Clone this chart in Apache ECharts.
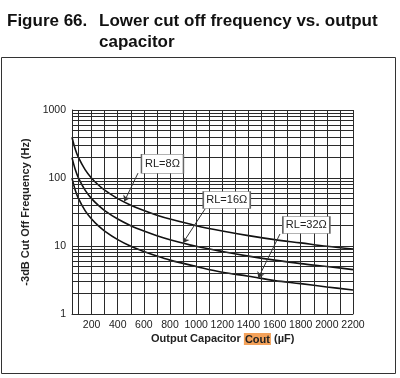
<!DOCTYPE html>
<html>
<head>
<meta charset="utf-8">
<script src="https://cdn.jsdelivr.net/npm/echarts@6/dist/echarts.min.js"></script>
<style>
html,body{margin:0;padding:0;background:#fff;}
#c{width:400px;height:378px;}
</style>
</head>
<body>
<div id="c"></div>
<script>
// Output capacitance (µF)
const capacitance = [50, 75, 100, 150, 200, 250, 300, 400, 500, 600, 700, 800, 1000, 1200, 1400, 1600, 1800, 2000, 2200];
// -3dB cut-off frequency (Hz) per load
const rl8  = [398, 265, 199, 133, 99.5, 79.6, 66.3, 49.7, 39.8, 33.2, 28.4, 24.9, 19.9, 16.6, 14.2, 12.4, 11.1, 9.9, 9.0];
const rl16 = [199, 133, 99.5, 66.3, 49.7, 39.8, 33.2, 24.9, 19.9, 16.6, 14.2, 12.4, 9.9, 8.3, 7.1, 6.2, 5.5, 5.0, 4.5];
const rl32 = [99.5, 66.3, 49.7, 33.2, 24.9, 19.9, 16.6, 12.4, 9.9, 8.3, 7.1, 6.2, 5.0, 4.1, 3.6, 3.1, 2.8, 2.5, 2.26];
const seriesNames = ['RL=8Ω', 'RL=16Ω', 'RL=32Ω'];
// Axis ticks
const xGridValues = [100,200,300,400,500,600,700,800,900,1000,1100,1200,1300,1400,1500,1600,1700,1800,1900,2000,2100,2200];
const xLabelValues = [200,400,600,800,1000,1200,1400,1600,1800,2000,2200];
const yGridValues = [1,2,3,4,5,6,7,8,9,10,20,30,40,50,60,70,80,90,100,200,300,400,500,600,700,800,900,1000];
const yLabelValues = [1,10,100,1000];
// Callouts: box centre and arrow (start -> end) in data coordinates
const callouts = [
  {name: seriesNames[0], box: [742, 162], size: [42, 19], from: [555, 118], to: [450, 45]},
  {name: seriesNames[1], box: [1234, 47.5], size: [47, 17], from: [1068, 35], to: [899, 11.1]},
  {name: seriesNames[2], box: [1843, 20.4], size: [47, 17], from: [1641, 15], to: [1475, 3.37]}
];

const chart = echarts.init(document.getElementById('c'), null, {renderer: 'canvas'});
const lineCol = '#2a2a2a';
const font = '"Liberation Sans", Arial, sans-serif';

function mkSeries(name, vals, co) {
  return {
    name: name,
    type: 'line',
    smooth: 0.35,
    symbol: 'none',
    data: capacitance.map((c, i) => [c, vals[i]]),
    lineStyle: {color: '#111', width: 1.6},
    z: 3,
    markPoint: {
      silent: true,
      symbol: 'rect',
      symbolSize: co.size,
      itemStyle: {color: '#fff', borderColor: '#666', borderWidth: 1},
      label: {show: true, position: 'inside', formatter: co.name, color: '#222', fontSize: 11, fontFamily: font},
      data: [{coord: co.box}]
    },
    markLine: {
      silent: true,
      symbol: ['none', 'arrow'],
      symbolSize: 6,
      lineStyle: {color: '#333', width: 1, type: 'solid'},
      label: {show: false},
      data: [[{coord: co.from}, {coord: co.to}]]
    }
  };
}

// grid-line helper series (vertical lines at every 100 µF, horizontal at 1..9 × decade)
const gridSeries = {
  type: 'line',
  data: [],
  silent: true,
  z: 1,
  markLine: {
    silent: true,
    symbol: ['none', 'none'],
    animation: false,
    lineStyle: {color: lineCol, width: 1, type: 'solid'},
    label: {show: false},
    data: xGridValues.map(v => ({xAxis: v})).concat(yGridValues.map(v => ({yAxis: v})))
  }
};

const option = {
  animation: false,
  backgroundColor: '#fff',
  grid: {left: 72, right: 47, top: 110, bottom: 64, show: false},
  xAxis: {
    type: 'value',
    min: 50,
    max: 2200,
    axisLine: {show: true, lineStyle: {color: lineCol, width: 1}},
    axisTick: {show: false},
    axisLabel: {customValues: xLabelValues, formatter: v => String(v), color: '#222', fontSize: 10.5, fontFamily: font, margin: 6},
    splitLine: {show: false}
  },
  yAxis: {
    type: 'log',
    logBase: 10,
    min: 1,
    max: 1000,
    name: '-3dB Cut Off Frequency (Hz)',
    nameLocation: 'middle',
    nameGap: 29,
    nameTextStyle: {color: '#222', fontSize: 11, fontWeight: 'bold', fontFamily: font},
    axisLine: {show: true, lineStyle: {color: lineCol, width: 1}},
    axisTick: {show: false},
    axisLabel: {customValues: yLabelValues, formatter: v => String(v), color: '#222', fontSize: 10.5, fontFamily: font, margin: 6},
    splitLine: {show: false}
  },
  series: [
    gridSeries,
    mkSeries(seriesNames[0], rl8, callouts[0]),
    mkSeries(seriesNames[1], rl16, callouts[1]),
    mkSeries(seriesNames[2], rl32, callouts[2])
  ],
  graphic: [
    {type: 'rect', shape: {x: 1.5, y: 57.5, width: 394, height: 316}, style: {fill: 'none', stroke: '#333', lineWidth: 1}, silent: true},
    {type: 'text', left: 7, top: 13, style: {text: 'Figure 66.', font: 'bold 17px ' + font, fill: '#111'}},
    {type: 'text', left: 99, top: 13, style: {text: 'Lower cut off frequency vs. output', font: 'bold 17px ' + font, fill: '#111'}},
    {type: 'text', left: 99, top: 34, style: {text: 'capacitor', font: 'bold 17px ' + font, fill: '#111'}},
    {type: 'text', left: 151, top: 333, style: {
      text: 'Output Capacitor {hl|Cout} (µF)',
      font: 'bold 11px ' + font, fill: '#222',
      rich: {hl: {backgroundColor: '#F4A25A', color: '#2a1a05', font: 'bold 11px ' + font, padding: [1, 1, 0, 1]}}
    }}
  ]
};
chart.setOption(option);
</script>
</body>
</html>
